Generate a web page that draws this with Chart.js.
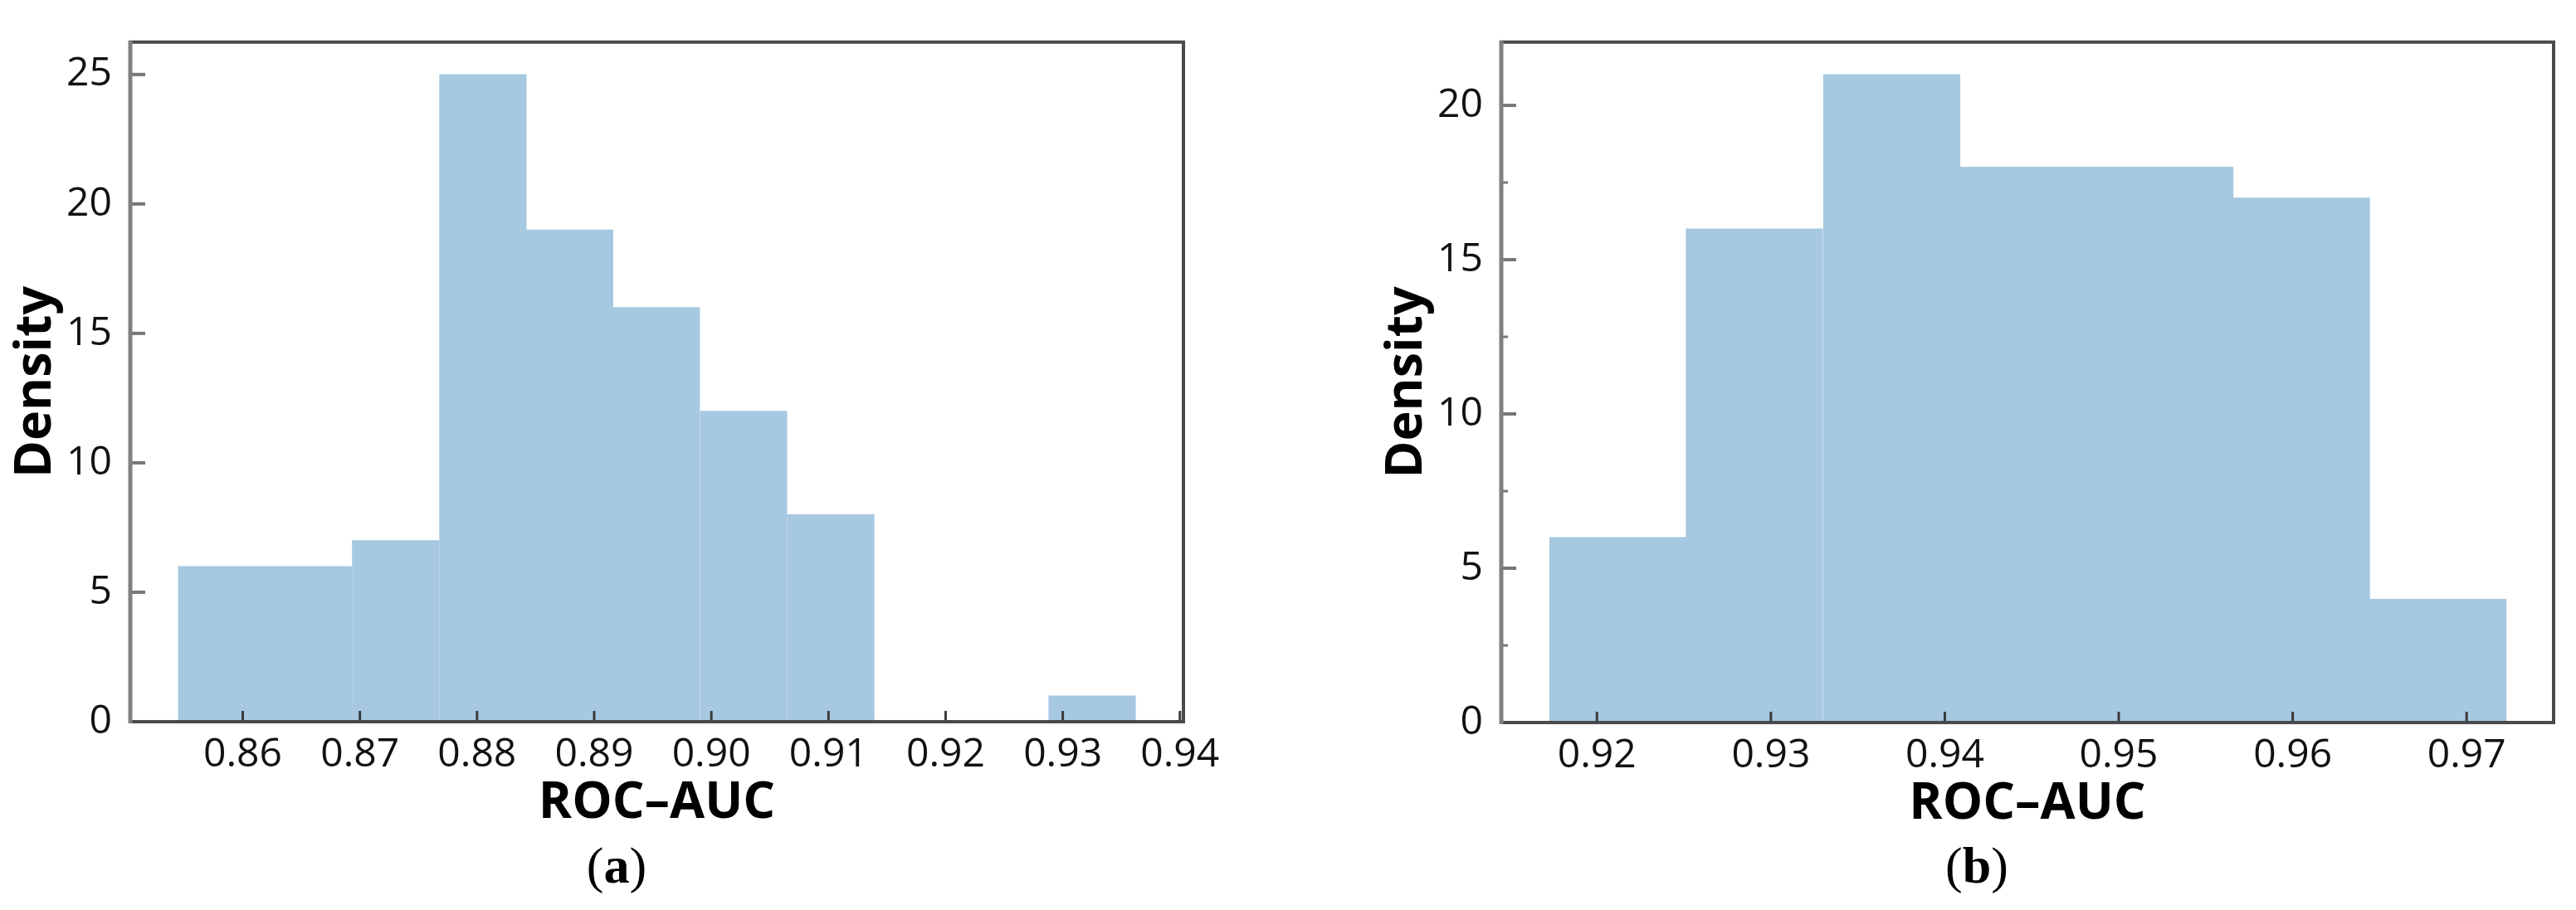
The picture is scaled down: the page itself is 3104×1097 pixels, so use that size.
<!DOCTYPE html>
<html>
<head>
<meta charset="utf-8">
<script src="https://cdn.jsdelivr.net/npm/chart.js@4.4.1/dist/chart.umd.min.js"></script>
<style>
  body { margin: 0; background: #fff; }
  #fig { position: relative; width: 3104px; height: 1097px; overflow: hidden; }
  .painel { position: absolute; top: 0; width: 1552px; height: 1097px; }
  .legenda { position: absolute; top: 1012px; width: 400px; text-align: center;
             font-family: 'Liberation Serif', serif; font-size: 62px; line-height: 62px; color: #000; }
</style>
</head>
<body>
<div id="fig">
  <div class="painel" style="left:0"><canvas id="grafA" width="1552" height="1097"></canvas></div>
  <div class="painel" style="left:1552px"><canvas id="grafB" width="1552" height="1097"></canvas></div>
  <div class="legenda" style="left:543px">(<b>a</b>)</div>
  <div class="legenda" style="left:2182px">(<b>b</b>)</div>
</div>
<script>
// ---------- dados ----------

// painel (a): bordas dos bins e densidade
const binsA = [0.8545, 0.8619, 0.8693, 0.8768, 0.8842, 0.8916, 0.8990, 0.9065, 0.9139, 0.9213, 0.9288, 0.9362]
const densA = [6, 6, 7, 25, 19, 16, 12, 8, 0, 0, 1]
const ticksXA = [0.86, 0.87, 0.88, 0.89, 0.90, 0.91, 0.92, 0.93, 0.94]
const ticksYA = [0, 5, 10, 15, 20, 25]
const limXA = [0.8504, 0.9403]
const limYA = [0, 26.25]

// painel (b)
const binsB = [0.9173, 0.9251, 0.9330, 0.9409, 0.9487, 0.9566, 0.9644, 0.9723]
const densB = [6, 16, 21, 18, 18, 17, 4]
const ticksXB = [0.92, 0.93, 0.94, 0.95, 0.96, 0.97]
const ticksYB = [0, 5, 10, 15, 20]
const menoresYB = [2.5, 7.5, 12.5, 17.5]
const limXB = [0.9145, 0.9750]
const limYB = [0, 22.05]

const corBarra = '#a6c8e1'
const fonteTick = { family: 'Open Sans', size: 48 }
const fonteTitulo = { family: 'Open Sans', size: 61, weight: 'bold' }

// moldura + ticks para dentro (estilo matplotlib)
const moldura = {
  id: 'moldura',
  afterDatasetsDraw(chart, args, opts) {
    const { ctx, chartArea: { left, top, right, bottom }, scales: { x, y } } = chart
    let linha = (x1, y1, x2, y2) => { ctx.beginPath(); ctx.moveTo(x1, y1); ctx.lineTo(x2, y2); ctx.stroke() }
    ctx.save()
    ctx.lineCap = 'butt'

    ctx.strokeStyle = '#3a3a3a'
    ctx.lineWidth = 3
    x.ticks.forEach(t => {
      let px = x.getPixelForValue(t.value)
      linha(px, bottom, px, bottom - 13)
    })

    ctx.strokeStyle = '#777'
    ctx.lineWidth = 4
    y.ticks.forEach(t => {
      let py = y.getPixelForValue(t.value)
      linha(left, py, left + 18, py)
    })
    ctx.lineWidth = 3
    ;(opts.menores || []).forEach(v => {
      let py = y.getPixelForValue(v)
      linha(left, py, left + 8, py)
    })

    // bordas
    ctx.strokeStyle = '#4a4a4a'
    ctx.lineWidth = 4
    linha(left, top, right + 2, top)
    linha(right, top, right, bottom + 2)
    linha(left, bottom, right + 2, bottom)
    ctx.strokeStyle = '#808080'
    ctx.lineWidth = 5
    linha(left, top - 2, left, bottom + 2)
    ctx.restore()
  }
}

function geraHist(id, bins, dens, cfg) {
  // cada barra centrada no meio do bin
  let pontos = []
  for (let i = 0; i < dens.length; i++) {
    pontos.push({ x: (bins[i] + bins[i + 1]) / 2, y: dens[i] })
  }

  new Chart(document.getElementById(id), {
    type: 'bar',
    data: {
      datasets: [{
        data: pontos,
        backgroundColor: corBarra,
        borderWidth: 0,
        barPercentage: 1,
        categoryPercentage: 1
      }]
    },
    options: {
      responsive: false,
      animation: false,
      devicePixelRatio: 1,
      layout: { padding: cfg.padding },
      plugins: {
        legend: { display: false },
        tooltip: { enabled: false },
        moldura: { menores: cfg.menores }
      },
      scales: {
        x: {
          type: 'linear',
          offset: false,
          min: cfg.limX[0],
          max: cfg.limX[1],
          grid: { display: false, drawTicks: false },
          border: { display: false },
          afterBuildTicks: s => { s.ticks = cfg.ticksX.map(v => ({ value: v })) },
          afterFit: s => { s.height = 135 },
          ticks: {
            autoSkip: false,
            maxRotation: 0,
            padding: 12,
            color: '#111',
            font: fonteTick,
            callback: v => v.toFixed(2)
          },
          title: { display: true, text: 'ROC\u2013AUC', color: '#000', font: fonteTitulo, padding: 0 }
        },
        y: {
          min: cfg.limY[0],
          max: cfg.limY[1],
          grid: { display: false, drawTicks: false },
          border: { display: false },
          afterBuildTicks: s => { s.ticks = cfg.ticksY.map(v => ({ value: v })) },
          afterFit: s => { s.width = 157 },
          ticks: {
            padding: 22,
            color: '#111',
            font: fonteTick
          },
          title: { display: true, text: 'Density', color: '#000', font: fonteTitulo, padding: { top: 7, bottom: 0 } }
        }
      }
    },
    plugins: [moldura]
  })
}

geraHist('grafA', binsA, densA, {
  padding: { left: 0, top: 49, right: 126, bottom: 92 },
  limX: limXA, limY: limYA, ticksX: ticksXA, ticksY: ticksYA
})

geraHist('grafB', binsB, densB, {
  padding: { left: 100, top: 49, right: 27, bottom: 91 },
  limX: limXB, limY: limYB, ticksX: ticksXB, ticksY: ticksYB, menores: menoresYB
})
</script>
</body>
</html>
